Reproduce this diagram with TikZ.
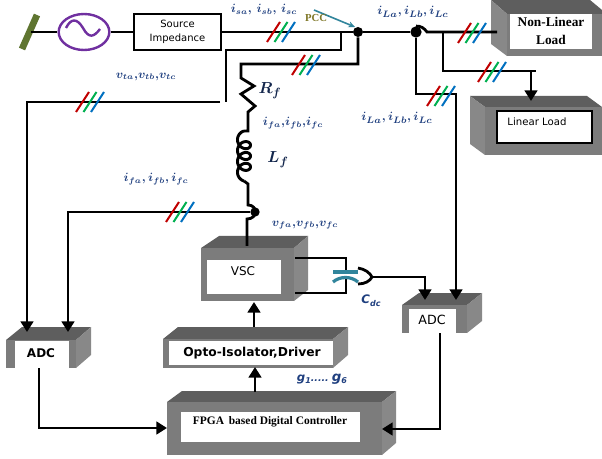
\documentclass[tikz,border=0pt]{standalone}
\usepackage{fontspec}
\setmainfont{Liberation Serif}
\newfontfamily\verd{DejaVu Sans}
\usetikzlibrary{arrows.meta,calc,shapes.geometric}
\definecolor{lblue}{HTML}{1F3F7F}
\definecolor{gfront}{HTML}{7C7C7C}
\definecolor{gtop}{HTML}{5E5E5E}
\definecolor{gside}{HTML}{888888}
\definecolor{myred}{HTML}{C00000}
\definecolor{mygreen}{HTML}{00B050}
\definecolor{myblue}{HTML}{0070C0}
\definecolor{teal2}{HTML}{31859C}
\definecolor{purp}{HTML}{7030A0}
\definecolor{olive2}{HTML}{5F7530}
\tikzset{
  wire/.style={line width=2.1pt,black,line join=miter},
  wirearrow/.style={wire,-{Triangle[length=8pt,width=9.5pt]}},
  lab/.style={text=lblue,font=\boldmath\fontsize{8.8}{11}\selectfont,inner sep=0pt},
  bigl/.style={text=lblue!60!black,font=\boldmath\fontsize{13}{15}\selectfont,inner sep=0pt},
  face/.style={inner sep=0pt,outer sep=0pt,fill=white,draw=none},
  boxtext/.style={inner sep=0pt,align=center,text=black},
  dot/.style={circle,fill=black,inner sep=0pt,minimum size=#1},
}
\newcommand{\frontface}[4]{\fill[gfront] (#1,#2) rectangle (#3,#4);}
\newcommand{\whiteface}[5]{%
  \pgfmathsetmacro{\wfw}{(#4-#2)*0.75}\pgfmathsetmacro{\wfh}{(#5-#3)*0.75}%
  \node[face,minimum width=\wfw pt,minimum height=\wfh pt,anchor=north west] (#1) at (#2,#3) {};}
\newcommand{\slashes}[2]{%
  \draw[myred,line width=1.5pt] (#1-7.5-6.5,#2+10) -- (#1-7.5+6.5,#2-10);
  \draw[mygreen,line width=1.5pt] (#1-6.5,#2+10) -- (#1+6.5,#2-10);
  \draw[myblue,line width=1.5pt] (#1+7.5-6.5,#2+10) -- (#1+7.5+6.5,#2-10);}
\begin{document}
\begin{tikzpicture}[x=0.75pt,y=-0.75pt]
\useasboundingbox (0,0) rectangle (602,459);
\fill[white] (0,0) rectangle (602,459);

% ---- 3D boxes
% Non-linear load
\fill[gtop] (491,0) -- (507,14) -- (602,14) -- (602,10) -- (590,0) -- cycle;
\fill[gside] (491,0) -- (507,14) -- (507,56) -- (491,44) -- cycle;
\frontface{507}{14}{602}{56}
\whiteface{nl}{510}{14}{592}{49}
\node[boxtext,font=\bfseries\fontsize{10}{14}\selectfont] (nltext) at (551,31) {Non-Linear\\Load};
% Linear load
\fill[gtop] (470,96) -- (587,96) -- (602,107) -- (485,107) -- cycle;
\fill[gside] (470,96) -- (485,107) -- (485,155) -- (470,144) -- cycle;
\frontface{485}{107}{602}{155}
\whiteface{ll}{497}{111}{592}{143}
\draw[black,line width=0.8pt] (497,111) rectangle (592,143);
\node[boxtext,font=\verd\fontsize{7.6}{9}\selectfont] (lltext) at (537,122) {Linear Load};
% VSC
\fill[gtop] (201,248) -- (219,236) -- (308,236) -- (294,248) -- cycle;
\fill[gside] (294,248) -- (308,236) -- (308,290) -- (294,301) -- cycle;
\frontface{201}{248}{294}{301}
\whiteface{vsc}{206.5}{260}{281}{294}
\node[boxtext,font=\verd\fontsize{9}{11}\selectfont] (vsctext) at (243,271) {VSC};
% Left ADC
\fill[gtop] (6,340) -- (22,327) -- (91,327) -- (76,340) -- cycle;
\fill[gside] (76,340) -- (91,327) -- (91,355) -- (76,368) -- cycle;
\frontface{6}{340}{76}{368}
\whiteface{adcl}{15}{341}{69}{368}
\node[boxtext,font=\verd\bfseries\fontsize{9}{11}\selectfont] (adcltext) at (41,353) {ADC};
% Right ADC
\fill[gtop] (402,305) -- (419,293) -- (482,293) -- (467,305) -- cycle;
\fill[gside] (467,305) -- (482,293) -- (482,321) -- (467,333) -- cycle;
\frontface{402}{305}{467}{333}
\whiteface{adcr}{409}{309}{456}{333}
\node[boxtext,font=\verd\fontsize{9.5}{11}\selectfont] (adcrtext) at (432,320) {ADC};
% Opto
\fill[gtop] (163,339) -- (178,327) -- (348,327) -- (333,339) -- cycle;
\fill[gside] (333,339) -- (348,327) -- (348,355) -- (333,368) -- cycle;
\frontface{163}{339}{333}{368}
\whiteface{opto}{169}{341}{333}{365}
\node[boxtext,font=\verd\bfseries\fontsize{9.2}{11}\selectfont] (optotext) at (252,353) {Opto-Isolator,Driver};
% FPGA
\fill[gtop] (167,402) -- (182,391) -- (396,391) -- (382,402) -- cycle;
\fill[gside] (382,402) -- (396,391) -- (396,443) -- (382,455) -- cycle;
\frontface{167}{402}{382}{455}
\whiteface{fpga}{181}{412}{360}{442}
\node[boxtext,font=\bfseries\fontsize{8.6}{10}\selectfont] (fpgatext) at (270,422) {FPGA\, based Digital Controller};

% ---- named points
\node[draw=black,line width=1.2pt,fill=white,minimum width=65pt,minimum height=27pt,inner sep=0pt,align=center,font=\verd\fontsize{7.5}{11}\selectfont] (srcimp) at (177.5,32) {Source\\Impedance};
\node[draw=purp,line width=1.8pt,ellipse,minimum width=38pt,minimum height=27pt,inner sep=0pt] (src) at (84,32) {};
\coordinate (gnd) at (31,32);
\coordinate (gnda) at (22,49);
\coordinate (gndb) at (37,15);
\node[dot=7.5pt] (pcc) at (358,32) {};
\node[dot=8.5pt] (jL) at (416,32) {};
\node[dot=7pt] (jf) at (255,212) {};
\coordinate (nlend) at (497,32);
\coordinate (humpe) at (427,32);
\coordinate (llb) at (443,32);

% ---- wires
\draw[olive2,line width=5pt] (gnda) -- (gndb);
\draw[wire] (gnd) -- (src.west);
\draw[wire] (src.east) -- (srcimp.west);
\draw[purp,line width=1.8pt] (66,28) .. controls (71,18) and (77,18) .. (83,28) .. controls (89,39) and (94,37) .. (100,29);
\draw[wire] (srcimp.east) -- (pcc) -- (jL);
\draw[wire] (jL.north) .. controls (421,26) and (424,28) .. (humpe) -- (nlend);
% voltage sensing
\coordinate (vs1) at (341,32);
\coordinate (vs2) at (341,50);
\coordinate (vs3) at (226,50);
\coordinate (vs4) at (226,102);
\coordinate (vtend) at (220,102);
\coordinate (vtb) at (27,102);
\coordinate (adclin1) at (27,332);
\draw[wire] (vs1) -- (vs2) -- (vs3) -- (vs4);
\draw[wirearrow] (vtend) -- (vtb) -- (adclin1);
% filter branch
\coordinate (f1) at (241,64);
\coordinate (f0) at (358,64);
\draw[wire] (pcc) -- (f0) -- (f1)
  -- (241,78) -- (254,86) -- (241,94) -- (255,106) -- (248,112) -- (248,131) -- (244,131);
\draw[wire,line width=2.2pt] plot[domain=90:1350,samples=160,smooth] ({244+6.5*cos(\x)},{137+(\x-90)/1260*38-6*sin(\x)});
\coordinate (lb) at (244,181);
\coordinate (lc) at (248,184);
\coordinate (vsctop) at (247,246);
\draw[wire] (lb) -- (lc) -- (248,205) .. controls (258,205) and (258,219) .. (247,219) -- (vsctop);
% if sense
\coordinate (ifb) at (68,212);
\coordinate (adclin2) at (68,332);
\draw[wirearrow] (jf) -- (ifb) -- (adclin2);
% load branches
\coordinate (l1) at (416,94);
\coordinate (l2) at (456,94);
\coordinate (adcrin2) at (456,300);
\draw[wirearrow] (jL) -- (l1) -- (l2) -- (adcrin2);
\coordinate (ll1) at (443,71);
\coordinate (ll2) at (536,71);
\coordinate (ll3) at (531,71);
\coordinate (llin) at (531,101);
\draw[wire] (llb) -- (ll1) -- (ll2);
\draw[wirearrow] (ll3) -- (llin);
% DC link
\coordinate (dc1) at (295,258);
\coordinate (dc2) at (346,258);
\coordinate (dc3) at (346,293);
\coordinate (dc4) at (295,293);
\coordinate (dc5) at (372,277);
\coordinate (dc6) at (425,277);
\coordinate (adcrin1) at (425,300);
\draw[wire] (dc1) -- (dc2) -- (346,272);
\draw[wire] (346,279) -- (dc3) -- (dc4);
\draw[teal2,line width=2.4pt] (333,272) -- (358,272);
\draw[teal2,line width=2.4pt] (333,282) .. controls (340,276) and (351,276) .. (358,282);
\draw[wire] (358,268) .. controls (365,269) and (370,273) .. (dc5) .. controls (370,281) and (365,284) .. (358,284);
\draw[wirearrow] (dc5) -- (dc6) -- (adcrin1);
% controls
\coordinate (vscb) at (254,302);
\coordinate (optot) at (254,327);
\draw[wirearrow] (optot) -- (vscb);
\coordinate (optob) at (255,367);
\coordinate (fpgat) at (255,392);
\draw[wirearrow] (fpgat) -- (optob);
\coordinate (adclout) at (39,368);
\coordinate (adcl2) at (39,428);
\coordinate (fpgal) at (167,428);
\draw[wirearrow] (adclout) -- (adcl2) -- (fpgal);
\coordinate (adcrout) at (440,333);
\coordinate (adcr2) at (440,429);
\coordinate (fpgar) at (382,429);
\draw[wirearrow] (adcrout) -- (adcr2) -- (fpgar);
% PCC marker
\coordinate (pcca) at (314,10);
\coordinate (pccb) at (355,27);
\draw[teal2,line width=1.2pt,-{Stealth[length=5pt,width=4.5pt]}] (pcca) -- (pccb);

% ---- three-phase marks
\slashes{281}{32}
\slashes{90}{102}
\slashes{306}{65}
\slashes{472}{33}
\slashes{492}{72}
\slashes{441}{96}
\slashes{180}{212}

% ---- labels
\node[lab] (l-is) at (264,10) {$i_{sa},\,i_{sb},\,i_{sc}$};
\node[lab] (l-vt) at (146,77) {$v_{ta}{,}v_{tb}{,}v_{tc}$};
\node[bigl] (l-r) at (270,91) {$R_f$};
\node[lab] (l-if1) at (293,123) {$i_{fa}{,}i_{fb}{,}i_{fc}$};
\node[bigl] (l-l) at (278,160) {$L_f$};
\node[lab] (l-if2) at (156,179) {$i_{fa},i_{fb},i_{fc}$};
\node[lab] (l-vf) at (305,225) {$v_{fa}{,}v_{fb}{,}v_{fc}$};
\node[lab,font=\boldmath\fontsize{9.5}{12}\selectfont] (l-il1) at (413,12) {$i_{La},i_{Lb},i_{Lc}$};
\node[lab,font=\boldmath\fontsize{9.5}{12}\selectfont] (l-il2) at (397,118) {$i_{La},i_{Lb},i_{Lc}$};
\node[lab] (l-c) at (371,301) {\verd\bfseries\itshape C\raisebox{-2pt}{\fontsize{6}{7}\selectfont dc}};
\node[lab] (l-g) at (322,379) {\verd\bfseries\itshape g\raisebox{-2pt}{\fontsize{6}{7}\selectfont 1}\fontsize{7}{8}\selectfont.....\ \fontsize{10}{12}\selectfont g\raisebox{-2pt}{\fontsize{6}{7}\selectfont 6}};
\node[inner sep=0pt,text=olive2!80!orange,font=\bfseries\fontsize{8}{9}\selectfont] (l-pcc) at (316,18) {PCC};
\end{tikzpicture}
\end{document}
